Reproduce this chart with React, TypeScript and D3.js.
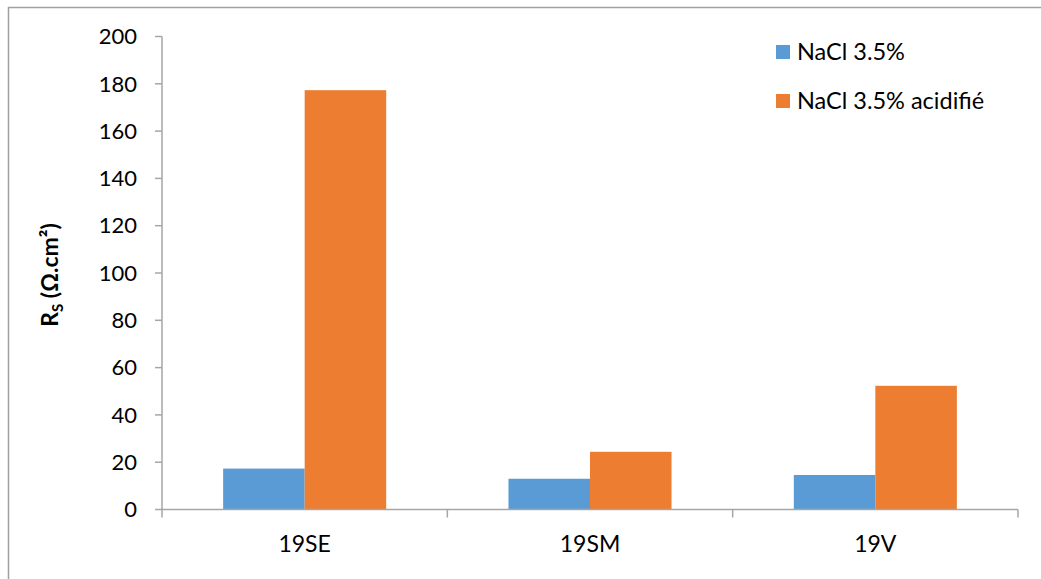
import React from "react";
import * as d3 from "d3";

const categories = ["19SE", "19SM", "19V"];
const seriesNames = ["NaCl 3.5%", "NaCl 3.5% acidifié"];
const nacl = [17.3, 13.0, 14.6];
const naclAcid = [177.3, 24.4, 52.3];
const yTicks = [0, 20, 40, 60, 80, 100, 120, 140, 160, 180, 200];
const colors = ["#5b9bd5", "#ed7d31"];

const W = 1041;
const H = 579;
const left = 162;
const right = 1018;
const top = 36.5;
const bottom = 509.5;
const font = "Lato, 'Open Sans', sans-serif";

export default function App() {
  const x = d3.scaleBand<string>().domain(categories).range([left, right]).paddingInner(0).paddingOuter(0);
  const y = d3.scaleLinear().domain([0, 200]).range([bottom, top]);
  const bw = x.bandwidth() / 3.5;
  const series = [nacl, naclAcid];
  const axisColor = "#a6a6a6";

  return (
    <svg width={W} height={H} style={{ position: "absolute", left: 0, top: 0, display: "block" }}>
      <rect x={0} y={0} width={W} height={H} fill="#fff" />
      <rect x={8.5} y={7.5} width={W + 20} height={H + 20} fill="none" stroke="#a0a0a0" strokeWidth={1.5} />
      {categories.map((c, i) =>
        series.map((s, j) => {
          const x0 = (x(c) as number) + bw * 0.75 + j * bw;
          return (
            <rect key={c + j} x={x0} y={y(s[i])} width={bw} height={y(0) - y(s[i])} fill={colors[j]} />
          );
        })
      )}
      {/* y axis */}
      <line x1={left} x2={left} y1={top} y2={bottom} stroke={axisColor} strokeWidth={1.5} />
      {yTicks.map((t) => (
        <g key={t}>
          <line x1={left - 7} x2={left} y1={y(t)} y2={y(t)} stroke={axisColor} strokeWidth={1.5} />
          <text x={137} y={y(t)} dy="0.35em" textAnchor="end" fontFamily={font} fontSize={22} fill="#000">
            {t}
          </text>
        </g>
      ))}
      {/* x axis */}
      <line x1={left} x2={right} y1={bottom} y2={bottom} stroke={axisColor} strokeWidth={1.5} />
      {[...categories.map((c) => x(c) as number), right].map((p, i) => (
        <line key={i} x1={p} x2={p} y1={bottom} y2={bottom + 8} stroke={axisColor} strokeWidth={1.5} />
      ))}
      {categories.map((c) => (
        <text key={c} x={(x(c) as number) + x.bandwidth() / 2} y={552} textAnchor="middle" fontFamily={font} fontSize={23} fill="#000">
          {c}
        </text>
      ))}
      {/* y title */}
      <text transform="translate(58,275) rotate(-90)" textAnchor="middle" fontFamily={font} fontSize={23} fontWeight="bold" fill="#000">
        R<tspan fontSize={15} dy={5}>S</tspan>
        <tspan dy={-5}> (Ω.cm²)</tspan>
      </text>
      {/* legend */}
      {seriesNames.map((n, j) => (
        <g key={n}>
          <rect x={776} y={45 + j * 49} width={14} height={14} fill={colors[j]} />
          <text x={797} y={60 + j * 49} fontFamily={font} fontSize={23.5} fill="#000">
            {n}
          </text>
        </g>
      ))}
    </svg>
  );
}
